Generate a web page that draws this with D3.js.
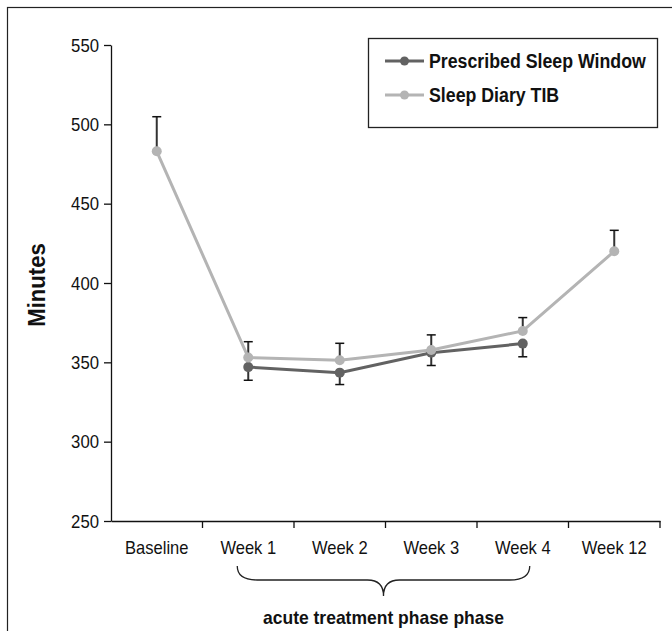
<!DOCTYPE html>
<html>
<head>
<meta charset="utf-8">
<script src="https://cdn.jsdelivr.net/npm/d3@7"></script>
<style>
  body { margin: 0; background: #fff; }
  svg text { font-family: "Liberation Sans", Arial, sans-serif; fill: #111; }
  .tick text { font-size: 19px; }
  .bold { font-weight: bold; }
</style>
</head>
<body>
<div id="chart"></div>
<script>
// data
const categories = ['Baseline', 'Week 1', 'Week 2', 'Week 3', 'Week 4', 'Week 12'];
const prescribed = [null, 347, 343.5, 356, 361.8, null];
const prescribedErrLow = [null, 338.7, 336, 348, 353.5, null];
const diaryTIB = [483, 353, 351.3, 357.8, 369.8, 420];
const diaryErrHigh = [504.8, 363, 362, 367.3, 378.2, 433.2];
const yTicks = [250, 300, 350, 400, 450, 500, 550];
const seriesNames = ['Prescribed Sleep Window', 'Sleep Diary TIB'];
const seriesColors = ['#626262', '#b4b4b4'];

const width = 672, height = 631;
const margin = {top: 45, left: 111, right: 12, bottom: 110};
const plotRight = 660, plotBottom = 521;

const svg = d3.select('#chart').append('svg')
  .attr('width', width).attr('height', height);

// the source font is a narrow sans; squeeze the glyphs horizontally
function condense(sel, k) {
  sel.each(function() {
    const w = this.getComputedTextLength();
    d3.select(this).attr('textLength', w * k).attr('lengthAdjust', 'spacingAndGlyphs');
  });
}

// outer frame (cut off at right and bottom)
svg.append('rect')
  .attr('x', 7.5).attr('y', 7.5)
  .attr('width', width + 10).attr('height', height + 10)
  .attr('fill', 'none').attr('stroke', '#222').attr('stroke-width', 1.2);

const x = d3.scaleBand().domain(categories).range([margin.left, plotRight]);
const y = d3.scaleLinear().domain([250, 550]).range([plotBottom, margin.top]);

// y axis
const yAxis = svg.append('g')
  .attr('transform', 'translate(' + margin.left + ',0)')
  .call(d3.axisLeft(y).tickValues(yTicks).tickSize(7).tickPadding(5).tickSizeOuter(0));
yAxis.select('.domain').attr('stroke', '#111').attr('stroke-width', 1.3);
yAxis.selectAll('.tick line').attr('stroke', '#111').attr('stroke-width', 1.3);
yAxis.selectAll('.tick text').call(condense, 0.88);

// x axis: ticks on the category boundaries
const xAxis = svg.append('g')
  .attr('transform', 'translate(0,' + plotBottom + ')')
  .call(d3.axisBottom(x).tickSize(0).tickPadding(20).tickSizeOuter(0));
xAxis.select('.domain').attr('stroke', '#111').attr('stroke-width', 1.3);
xAxis.selectAll('.tick line').remove();
xAxis.selectAll('.tick text').call(condense, 0.87);
const bounds = categories.map(c => x(c) + x.bandwidth());
xAxis.selectAll('.bound')
  .data(bounds)
  .enter()
  .append('line')
  .attr('x1', d => d).attr('x2', d => d)
  .attr('y1', 0).attr('y2', 7)
  .attr('stroke', '#111').attr('stroke-width', 1.3);

// y label
svg.append('text')
  .attr('class', 'bold')
  .attr('text-anchor', 'middle')
  .attr('transform', 'translate(45,285) rotate(-90)')
  .style('font-size', '23.5px')
  .text('Minutes')
  .call(condense, 0.94);

const cx = c => x(c) + x.bandwidth() / 2;

// error bars
function errorBars(vals, ends) {
  const g = svg.append('g');
  const pts = categories.map((c, i) => ({c: c, v: vals[i], e: ends[i]})).filter(d => d.v != null);
  g.selectAll('line.stem').data(pts).enter().append('line')
    .attr('x1', d => cx(d.c)).attr('x2', d => cx(d.c))
    .attr('y1', d => y(d.v)).attr('y2', d => y(d.e))
    .attr('stroke', '#333').attr('stroke-width', 2);
  g.selectAll('line.cap').data(pts).enter().append('line')
    .attr('x1', d => cx(d.c) - 4.5).attr('x2', d => cx(d.c) + 4.5)
    .attr('y1', d => y(d.e)).attr('y2', d => y(d.e))
    .attr('stroke', '#111').attr('stroke-width', 1.5);
}
errorBars(prescribed, prescribedErrLow);
errorBars(diaryTIB, diaryErrHigh);

// series lines and markers
const line = d3.line()
  .defined(d => d.v != null)
  .x(d => cx(d.c)).y(d => y(d.v));

[prescribed, diaryTIB].forEach((vals, k) => {
  const pts = categories.map((c, i) => ({c: c, v: vals[i]}));
  svg.append('path')
    .datum(pts)
    .attr('d', line)
    .attr('fill', 'none')
    .attr('stroke', seriesColors[k])
    .attr('stroke-width', 3);
  svg.append('g').selectAll('circle')
    .data(pts.filter(d => d.v != null))
    .enter()
    .append('circle')
    .attr('cx', d => cx(d.c)).attr('cy', d => y(d.v))
    .attr('r', 5)
    .attr('fill', seriesColors[k]);
});

// legend
const legend = svg.append('g');
legend.append('rect')
  .attr('x', 368.5).attr('y', 38.5).attr('width', 289).attr('height', 89)
  .attr('fill', '#fff').attr('stroke', '#222').attr('stroke-width', 1.3);
const legendRows = legend.selectAll('g.row')
  .data(seriesNames)
  .enter()
  .append('g')
  .attr('transform', (d, i) => 'translate(0,' + (61 + i * 34) + ')');
legendRows.append('line')
  .attr('x1', 385).attr('x2', 424).attr('y1', 0).attr('y2', 0)
  .attr('stroke', (d, i) => seriesColors[i]).attr('stroke-width', 3);
legendRows.append('circle')
  .attr('cx', 404.5).attr('cy', 0).attr('r', 4.5)
  .attr('fill', (d, i) => seriesColors[i]);
legendRows.append('text')
  .attr('class', 'bold')
  .attr('x', 429).attr('y', 7)
  .style('font-size', '19.5px')
  .text(d => d)
  .call(condense, 0.91);

// brace under weeks 1-4
const bx0 = cx('Week 1') - 11, bx1 = cx('Week 4') + 7;
const bmid = (bx0 + bx1) / 2;
const by0 = 566, by1 = 580, by2 = 596;
const brace = d3.path();
brace.moveTo(bx0, by0);
brace.quadraticCurveTo(bx0, by1, bx0 + 20, by1);
brace.lineTo(bmid - 16, by1);
brace.quadraticCurveTo(bmid, by1, bmid, by2);
brace.quadraticCurveTo(bmid, by1, bmid + 16, by1);
brace.lineTo(bx1 - 20, by1);
brace.quadraticCurveTo(bx1, by1, bx1, by0);
svg.append('path')
  .attr('d', brace.toString())
  .attr('fill', 'none').attr('stroke', '#222').attr('stroke-width', 1.3);

svg.append('text')
  .attr('class', 'bold')
  .attr('x', bmid).attr('y', 624)
  .attr('text-anchor', 'middle')
  .style('font-size', '19px')
  .text('acute treatment phase phase')
  .call(condense, 0.92);
</script>
</body>
</html>
